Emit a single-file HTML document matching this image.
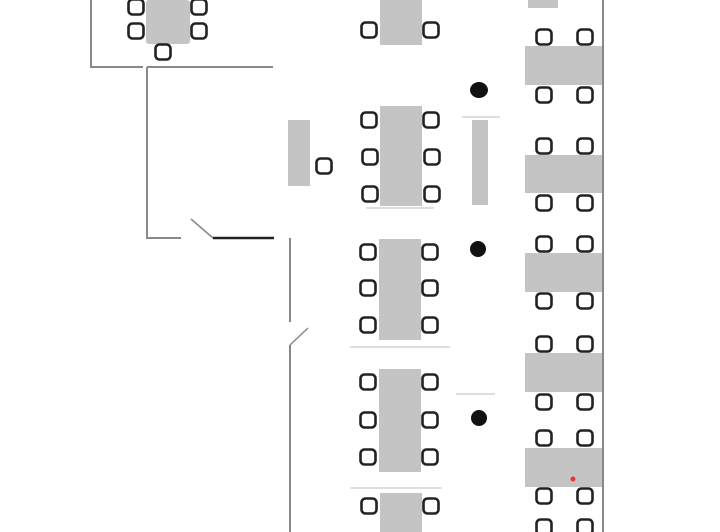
<!DOCTYPE html>
<html><head><style>html,body{margin:0;padding:0;background:#fff}svg{display:block}</style></head>
<body>
<svg width="720" height="532" viewBox="0 0 720 532" xmlns="http://www.w3.org/2000/svg">
<defs>
<g id="c"><rect x="-7.5" y="-7.5" width="15" height="15" rx="4" fill="#fff" stroke="#222" stroke-width="2.6"/></g>
</defs>
<g fill="#c4c4c4">
<rect x="146" y="0" width="44" height="44" rx="3"/>
<rect x="288" y="120" width="22" height="66"/>
<rect x="380" y="0" width="42" height="45"/>
<rect x="380" y="106" width="42" height="100"/>
<rect x="379" y="239" width="42" height="101"/>
<rect x="379" y="369" width="42" height="103"/>
<rect x="380" y="493" width="42" height="39"/>
<rect x="472" y="120" width="16" height="85"/>
<rect x="528" y="0" width="30" height="8"/>
<rect x="525" y="46" width="77" height="39"/>
<rect x="525" y="155" width="77" height="38"/>
<rect x="525" y="253" width="77" height="39"/>
<rect x="525" y="353" width="77" height="39"/>
<rect x="525" y="448" width="77" height="39"/>
</g>
<g stroke="#888" stroke-width="2" fill="none">
<path d="M91 0V67H143M147 67H273M147 67V238H181"/>
<path d="M603 0V532"/>
<path d="M290 238V322M290 345V532"/>
<path d="M191 219L213 238" stroke-width="1.5"/>
<path d="M290 345L308 328" stroke-width="1.5"/>
</g>
<path d="M213 238H274" stroke="#222" stroke-width="2.5"/>
<g stroke="#ccc" stroke-width="1.2">
<path d="M462 117H500M366 208H434M350 347H450M350 488H442M456 394H495"/>
</g>
<g fill="#111">
<ellipse cx="479" cy="90" rx="9" ry="8"/>
<circle cx="478" cy="249" r="8"/>
<circle cx="479" cy="418" r="8"/>
</g>
<circle cx="573" cy="479" r="2.5" fill="#e33"/>
<g>
<use href="#c" x="136" y="7"/><use href="#c" x="136" y="31"/>
<use href="#c" x="199" y="7"/><use href="#c" x="199" y="31"/>
<use href="#c" x="163" y="52"/>
<use href="#c" x="324" y="166"/>
<use href="#c" x="369" y="30"/><use href="#c" x="431" y="30"/>
<use href="#c" x="369" y="120"/><use href="#c" x="431" y="120"/>
<use href="#c" x="370" y="157"/><use href="#c" x="432" y="157"/>
<use href="#c" x="370" y="194"/><use href="#c" x="432" y="194"/>
<use href="#c" x="368" y="252"/><use href="#c" x="430" y="252"/>
<use href="#c" x="368" y="288"/><use href="#c" x="430" y="288"/>
<use href="#c" x="368" y="325"/><use href="#c" x="430" y="325"/>
<use href="#c" x="368" y="382"/><use href="#c" x="430" y="382"/>
<use href="#c" x="368" y="420"/><use href="#c" x="430" y="420"/>
<use href="#c" x="368" y="457"/><use href="#c" x="430" y="457"/>
<use href="#c" x="369" y="506"/><use href="#c" x="431" y="506"/>
<use href="#c" x="544" y="37"/><use href="#c" x="585" y="37"/>
<use href="#c" x="544" y="95"/><use href="#c" x="585" y="95"/>
<use href="#c" x="544" y="146"/><use href="#c" x="585" y="146"/>
<use href="#c" x="544" y="203"/><use href="#c" x="585" y="203"/>
<use href="#c" x="544" y="244"/><use href="#c" x="585" y="244"/>
<use href="#c" x="544" y="301"/><use href="#c" x="585" y="301"/>
<use href="#c" x="544" y="344"/><use href="#c" x="585" y="344"/>
<use href="#c" x="544" y="402"/><use href="#c" x="585" y="402"/>
<use href="#c" x="544" y="438"/><use href="#c" x="585" y="438"/>
<use href="#c" x="544" y="496"/><use href="#c" x="585" y="496"/>
<use href="#c" x="544" y="527"/><use href="#c" x="585" y="527"/>
</g>
</svg>
</body></html>
